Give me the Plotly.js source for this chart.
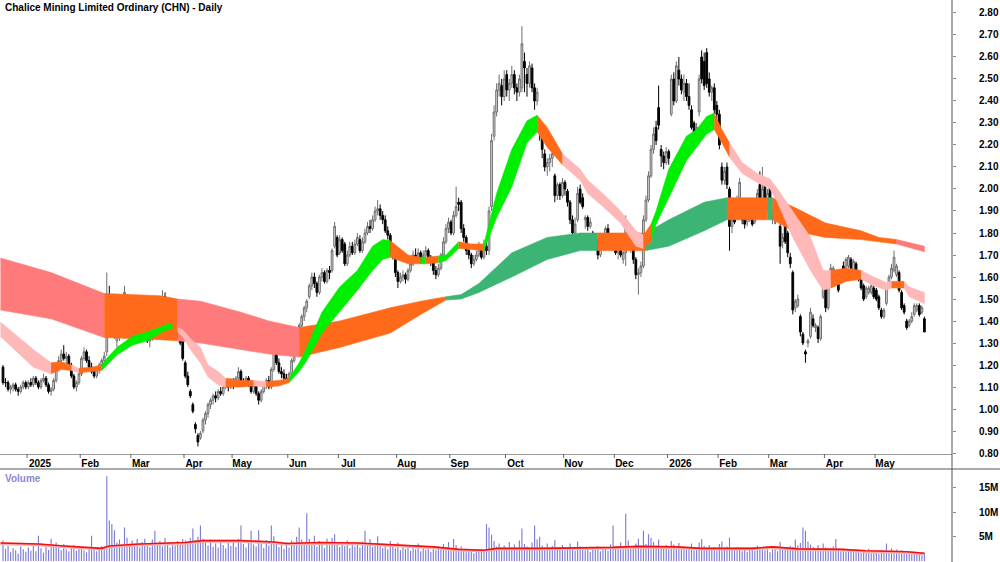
<!DOCTYPE html>
<html><head><meta charset="utf-8">
<script src="https://cdn.plot.ly/plotly-3.0.1.min.js"></script>
<style>html,body{margin:0;padding:0;background:#fff}#chart{width:1000px;height:562px}</style>
</head><body><div id="chart"></div>
<script>
// ---- Daily OHLC (trading-day index 0 = mid Dec 2024) ----
const openP = [
1.19,1.12,1.12,1.09,1.10,1.11,1.09,1.08,1.10,1.12,
1.10,1.12,1.11,1.14,1.12,1.10,1.13,1.14,1.11,1.08,
1.09,1.13,1.18,1.22,1.25,1.23,1.24,1.20,1.15,1.10,
1.12,1.16,1.23,1.26,1.22,1.19,1.17,1.15,1.18,1.20,
1.22,1.26,1.52,1.47,1.48,1.31,1.33,1.37,1.38,1.51,
1.45,1.38,1.40,1.46,1.41,1.43,1.38,1.36,1.31,1.32,
1.35,1.39,1.45,1.49,1.51,1.46,1.41,1.37,1.36,1.35,
1.34,1.33,1.21,1.15,1.08,1.02,0.93,0.88,0.87,0.90,
0.95,0.98,1.02,1.04,1.06,1.05,1.08,1.07,1.10,1.12,
1.10,1.12,1.11,1.14,1.17,1.12,1.11,1.14,1.12,1.08,
1.11,1.07,1.04,1.08,1.11,1.13,1.10,1.18,1.26,1.21,
1.17,1.16,1.14,1.13,1.16,1.22,1.28,1.34,1.38,1.42,
1.46,1.51,1.56,1.60,1.57,1.53,1.60,1.62,1.58,1.63,
1.63,1.74,1.78,1.71,1.77,1.75,1.66,1.70,1.74,1.71,
1.75,1.77,1.72,1.76,1.80,1.83,1.82,1.86,1.90,1.91,
1.88,1.86,1.81,1.79,1.72,1.68,1.62,1.58,1.60,1.61,
1.59,1.63,1.66,1.70,1.69,1.71,1.68,1.70,1.72,1.69,
1.67,1.63,1.61,1.64,1.70,1.76,1.82,1.85,1.80,1.88,
1.94,1.94,1.82,1.78,1.72,1.70,1.66,1.68,1.70,1.73,
1.69,1.74,1.72,1.92,2.24,2.35,2.45,2.47,2.42,2.52,
2.45,2.48,2.52,2.46,2.44,2.46,2.58,2.52,2.48,2.55,
2.46,2.40,2.30,2.28,2.16,2.10,2.12,2.14,2.06,1.97,
2.02,1.97,2.03,1.99,1.94,1.86,1.80,1.86,2.00,1.96,
1.86,1.87,1.83,1.80,1.74,1.76,1.70,1.73,1.76,1.82,
1.75,1.78,1.74,1.71,1.73,1.68,1.71,1.84,1.75,1.74,
1.68,1.61,1.62,1.65,1.86,1.95,2.06,2.18,2.28,2.37,
2.18,2.15,2.12,2.17,2.34,2.50,2.40,2.54,2.50,2.44,
2.48,2.42,2.36,2.30,2.22,2.35,2.60,2.58,2.62,2.50,
2.44,2.46,2.38,2.34,2.10,2.04,2.10,2.00,1.83,1.93,
1.88,1.95,1.93,1.89,1.85,1.86,1.88,1.85,1.90,2.02,
1.94,2.03,1.92,2.02,1.88,1.90,1.87,1.83,1.76,1.85,
1.80,1.69,1.62,1.46,1.47,1.42,1.34,1.26,1.30,1.33,
1.41,1.37,1.37,1.32,1.51,1.59,1.46,1.60,1.58,1.62,
1.62,1.58,1.65,1.64,1.65,1.68,1.63,1.66,1.62,1.59,
1.56,1.51,1.53,1.53,1.55,1.54,1.51,1.45,1.42,1.48,
1.56,1.60,1.63,1.61,1.62,1.53,1.47,1.40,1.38,1.40,
1.43,1.45,1.47,1.44,1.41];
const highP = [
1.20,1.14,1.13,1.11,1.12,1.12,1.10,1.11,1.13,1.13,
1.13,1.14,1.15,1.15,1.13,1.14,1.16,1.15,1.12,1.10,
1.14,1.20,1.24,1.27,1.29,1.26,1.25,1.21,1.16,1.13,
1.17,1.24,1.28,1.27,1.24,1.21,1.18,1.19,1.21,1.23,
1.26,1.62,1.56,1.50,1.49,1.35,1.38,1.42,1.56,1.52,
1.46,1.42,1.47,1.47,1.44,1.44,1.40,1.37,1.33,1.36,
1.40,1.46,1.50,1.54,1.53,1.47,1.43,1.39,1.37,1.36,
1.35,1.35,1.22,1.17,1.09,1.03,0.94,0.89,0.90,0.96,
0.99,1.03,1.05,1.07,1.08,1.09,1.10,1.11,1.13,1.13,
1.14,1.14,1.15,1.19,1.18,1.14,1.15,1.15,1.13,1.12,
1.12,1.08,1.09,1.12,1.14,1.15,1.19,1.28,1.27,1.23,
1.19,1.18,1.16,1.17,1.23,1.29,1.35,1.39,1.43,1.47,
1.50,1.57,1.62,1.62,1.58,1.61,1.64,1.63,1.64,1.65,
1.73,1.85,1.79,1.79,1.78,1.76,1.72,1.76,1.76,1.77,
1.80,1.79,1.78,1.82,1.85,1.86,1.88,1.92,1.95,1.93,
1.90,1.88,1.83,1.80,1.74,1.69,1.63,1.62,1.63,1.62,
1.64,1.68,1.72,1.73,1.73,1.72,1.72,1.74,1.73,1.70,
1.68,1.65,1.66,1.71,1.78,1.84,1.87,1.86,1.90,2.01,
1.96,1.95,1.84,1.79,1.74,1.71,1.70,1.72,1.76,1.74,
1.77,1.76,1.92,2.25,2.38,2.48,2.52,2.50,2.54,2.54,
2.50,2.56,2.54,2.48,2.52,2.74,2.62,2.55,2.58,2.57,
2.48,2.46,2.32,2.29,2.18,2.14,2.16,2.18,2.07,2.03,
2.03,2.05,2.04,2.00,1.95,1.88,1.87,2.01,2.02,1.98,
1.88,1.88,1.87,1.81,1.77,1.77,1.74,1.77,1.83,1.84,
1.79,1.80,1.75,1.75,1.76,1.72,1.88,1.85,1.78,1.75,
1.69,1.64,1.67,1.88,1.97,2.08,2.20,2.28,2.31,2.47,
2.20,2.17,2.19,2.18,2.52,2.53,2.58,2.60,2.52,2.52,
2.50,2.48,2.38,2.31,2.30,2.52,2.63,2.62,2.64,2.53,
2.47,2.48,2.40,2.36,2.12,2.10,2.12,2.01,1.88,1.95,
1.97,2.05,1.95,1.91,1.89,1.89,1.90,1.92,2.00,2.08,
2.10,2.05,2.00,2.04,1.92,1.91,1.91,1.84,1.80,1.87,
1.81,1.71,1.63,1.50,1.52,1.43,1.35,1.27,1.32,1.46,
1.43,1.39,1.38,1.43,1.58,1.60,1.59,1.66,1.65,1.63,
1.63,1.63,1.67,1.69,1.70,1.69,1.68,1.67,1.63,1.60,
1.57,1.56,1.56,1.57,1.56,1.55,1.52,1.46,1.46,1.56,
1.61,1.66,1.72,1.66,1.63,1.54,1.48,1.41,1.41,1.44,
1.48,1.48,1.48,1.47,1.42];
const lowP = [
1.11,1.10,1.08,1.07,1.08,1.08,1.06,1.07,1.09,1.09,
1.09,1.10,1.10,1.11,1.09,1.09,1.12,1.10,1.07,1.06,
1.08,1.12,1.17,1.20,1.22,1.20,1.19,1.14,1.09,1.08,
1.11,1.15,1.22,1.21,1.18,1.16,1.14,1.14,1.16,1.18,
1.20,1.24,1.45,1.44,1.32,1.28,1.31,1.35,1.36,1.43,
1.36,1.35,1.39,1.40,1.38,1.37,1.34,1.30,1.28,1.31,
1.34,1.38,1.43,1.46,1.45,1.40,1.36,1.34,1.33,1.32,
1.29,1.22,1.14,1.10,1.05,0.98,0.89,0.83,0.86,0.89,
0.93,0.96,1.00,1.02,1.03,1.04,1.06,1.06,1.09,1.08,
1.09,1.09,1.10,1.12,1.11,1.10,1.10,1.10,1.07,1.07,
1.06,1.02,1.03,1.07,1.09,1.09,1.09,1.17,1.20,1.16,
1.14,1.12,1.12,1.12,1.15,1.21,1.27,1.32,1.36,1.40,
1.44,1.50,1.54,1.55,1.51,1.52,1.58,1.57,1.57,1.59,
1.62,1.73,1.69,1.70,1.71,1.65,1.65,1.69,1.70,1.70,
1.74,1.71,1.71,1.75,1.79,1.80,1.81,1.85,1.88,1.86,
1.84,1.80,1.77,1.70,1.68,1.60,1.55,1.57,1.58,1.57,
1.58,1.62,1.65,1.67,1.68,1.66,1.67,1.69,1.68,1.65,
1.61,1.59,1.60,1.63,1.69,1.75,1.80,1.79,1.79,1.87,
1.90,1.80,1.76,1.70,1.68,1.64,1.65,1.67,1.69,1.68,
1.68,1.70,1.70,1.90,2.22,2.33,2.42,2.38,2.40,2.42,
2.40,2.46,2.43,2.40,2.42,2.44,2.44,2.42,2.46,2.44,
2.36,2.38,2.22,2.14,2.08,2.06,2.08,2.10,1.94,1.95,
1.95,1.96,1.97,1.92,1.84,1.77,1.78,1.85,1.93,1.91,
1.82,1.81,1.82,1.73,1.72,1.68,1.69,1.72,1.75,1.74,
1.74,1.73,1.70,1.68,1.69,1.66,1.65,1.76,1.71,1.66,
1.59,1.52,1.60,1.64,1.85,1.94,2.05,2.16,2.20,2.27,
2.10,2.09,2.11,2.11,2.33,2.38,2.39,2.47,2.43,2.40,
2.40,2.36,2.27,2.21,2.20,2.33,2.48,2.45,2.46,2.42,
2.40,2.34,2.30,2.18,2.02,2.02,2.00,1.72,1.80,1.84,
1.86,1.94,1.84,1.82,1.83,1.85,1.83,1.84,1.89,1.93,
1.93,1.94,1.90,1.93,1.84,1.84,1.85,1.66,1.73,1.75,
1.69,1.64,1.43,1.44,1.46,1.33,1.29,1.21,1.28,1.32,
1.37,1.35,1.30,1.31,1.50,1.44,1.45,1.59,1.57,1.56,
1.53,1.57,1.61,1.63,1.64,1.63,1.62,1.60,1.58,1.54,
1.49,1.50,1.52,1.52,1.50,1.49,1.45,1.41,1.41,1.47,
1.55,1.59,1.62,1.60,1.53,1.45,1.43,1.36,1.37,1.39,
1.42,1.44,1.42,1.43,1.35];
const closeP = [
1.12,1.12,1.09,1.10,1.11,1.09,1.08,1.10,1.12,1.10,
1.12,1.11,1.14,1.12,1.10,1.13,1.14,1.11,1.08,1.09,
1.13,1.18,1.22,1.25,1.23,1.24,1.20,1.15,1.10,1.12,
1.16,1.23,1.26,1.22,1.19,1.17,1.15,1.18,1.20,1.22,
1.24,1.50,1.47,1.46,1.34,1.33,1.37,1.40,1.53,1.45,
1.38,1.40,1.46,1.41,1.43,1.38,1.36,1.31,1.32,1.35,
1.39,1.45,1.49,1.51,1.46,1.41,1.37,1.36,1.35,1.34,
1.30,1.23,1.15,1.11,1.06,0.99,0.91,0.85,0.89,0.95,
0.98,1.02,1.04,1.06,1.05,1.08,1.07,1.10,1.12,1.10,
1.12,1.11,1.14,1.17,1.12,1.11,1.14,1.12,1.08,1.11,
1.07,1.04,1.08,1.11,1.13,1.10,1.18,1.26,1.21,1.17,
1.16,1.14,1.13,1.16,1.22,1.28,1.34,1.38,1.42,1.46,
1.49,1.56,1.60,1.57,1.53,1.60,1.62,1.58,1.63,1.62,
1.72,1.83,1.70,1.77,1.72,1.66,1.70,1.74,1.71,1.75,
1.78,1.72,1.76,1.80,1.83,1.82,1.86,1.90,1.91,1.88,
1.86,1.81,1.79,1.72,1.70,1.62,1.58,1.60,1.61,1.59,
1.63,1.66,1.70,1.69,1.71,1.68,1.70,1.72,1.69,1.67,
1.63,1.61,1.64,1.70,1.76,1.82,1.85,1.80,1.88,1.92,
1.93,1.82,1.78,1.72,1.70,1.66,1.68,1.70,1.73,1.69,
1.74,1.72,1.90,2.22,2.35,2.45,2.48,2.42,2.50,2.45,
2.48,2.52,2.46,2.44,2.50,2.66,2.55,2.48,2.56,2.46,
2.40,2.44,2.28,2.18,2.10,2.12,2.14,2.16,1.97,2.02,
1.97,2.03,2.00,1.94,1.86,1.80,1.84,1.98,1.94,1.92,
1.87,1.83,1.85,1.74,1.76,1.70,1.73,1.76,1.82,1.75,
1.78,1.74,1.71,1.73,1.70,1.71,1.86,1.77,1.76,1.68,
1.61,1.62,1.65,1.86,1.95,2.06,2.18,2.25,2.22,2.29,
2.15,2.12,2.17,2.14,2.50,2.40,2.56,2.50,2.45,2.48,
2.42,2.38,2.28,2.22,2.28,2.50,2.50,2.47,2.48,2.44,
2.46,2.36,2.34,2.20,2.04,2.08,2.02,1.83,1.86,1.85,
1.95,2.03,1.86,1.84,1.87,1.88,1.84,1.90,1.98,1.94,
2.00,1.96,1.98,1.94,1.90,1.86,1.90,1.74,1.78,1.76,
1.71,1.66,1.45,1.49,1.50,1.35,1.30,1.25,1.31,1.44,
1.38,1.38,1.32,1.42,1.56,1.46,1.58,1.64,1.64,1.57,
1.54,1.62,1.62,1.68,1.69,1.64,1.67,1.61,1.59,1.55,
1.50,1.55,1.55,1.56,1.51,1.50,1.46,1.42,1.45,1.55,
1.60,1.64,1.69,1.65,1.54,1.46,1.44,1.37,1.40,1.42,
1.47,1.47,1.43,1.46,1.35];
// ---- Daily volume (millions of shares) ----
const volumeM = [
4.2,2.5,3.1,1.8,2.6,2.2,1.5,3.0,2.4,1.9,
2.8,2.1,3.4,2.0,5.2,2.6,1.7,2.9,2.3,4.6,
3.1,3.8,2.7,2.2,3.5,2.4,2.0,2.9,3.3,2.1,
2.5,3.0,2.2,1.8,2.7,5.2,2.4,2.0,2.6,3.1,
2.9,17.4,8.3,7.6,6.3,3.8,4.4,3.2,6.9,4.8,
3.6,4.2,3.1,4.5,2.8,3.9,4.6,3.3,2.9,4.4,
6.2,3.7,4.1,3.0,4.8,3.4,2.8,3.9,3.2,4.1,
3.5,4.5,4.2,3.8,4.7,6.7,4.3,5.0,7.3,4.6,
3.9,3.2,4.4,3.0,3.6,2.8,4.1,3.3,2.6,3.8,
3.1,4.0,2.9,4.6,7.3,3.5,2.8,4.2,6.2,3.4,
3.0,6.3,3.7,2.7,4.3,3.2,7.3,5.1,3.6,2.9,
3.4,2.5,3.9,2.8,4.2,3.6,5.0,6.9,4.4,3.8,
9.8,4.5,3.3,5.2,3.0,4.1,3.5,2.7,4.6,3.2,
4.8,5.5,3.6,2.9,3.8,3.1,4.2,2.6,3.4,3.0,
3.7,2.8,4.0,6.2,3.3,4.5,2.9,3.6,5.1,3.2,
2.7,3.5,2.4,4.1,3.0,2.6,3.8,2.2,2.9,2.5,
3.3,2.1,2.8,2.4,3.6,2.0,2.7,2.3,3.1,1.9,
2.6,2.2,3.0,2.8,3.5,2.4,3.9,2.1,4.5,3.3,
2.5,3.0,2.1,1.8,2.4,2.0,1.6,2.2,1.9,2.5,
2.3,7.6,6.9,5.4,4.1,3.0,3.6,2.5,3.2,2.7,
3.9,2.8,3.4,2.3,4.2,6.7,3.5,3.0,2.6,3.8,
7.3,4.4,5.0,3.2,2.8,3.6,2.4,3.1,4.3,2.9,
2.5,3.3,2.2,2.8,3.6,2.7,2.1,4.0,3.0,2.4,
2.2,2.9,1.9,2.6,2.3,3.1,2.0,2.5,2.8,2.1,
3.4,7.3,3.0,2.6,3.8,2.4,9.7,4.2,3.1,2.7,
3.6,4.6,2.9,6.2,3.5,5.5,4.8,3.9,3.2,4.4,
3.0,2.6,3.3,2.4,4.1,3.4,2.8,3.7,2.5,3.0,
2.3,2.9,3.6,2.2,2.7,3.8,4.5,3.1,2.6,3.3,
2.4,2.9,2.1,3.5,4.0,2.6,3.0,4.8,2.7,2.2,
2.9,2.4,2.0,2.6,1.9,2.3,2.8,2.1,3.2,2.5,
2.7,2.2,3.0,1.8,2.4,2.6,2.0,3.9,2.8,2.3,
2.6,3.1,2.9,4.4,3.2,3.7,6.9,6.2,4.0,3.4,
2.9,2.5,3.3,2.4,3.6,2.8,2.2,2.7,3.0,4.5,
2.3,2.0,2.6,1.9,2.4,2.1,1.8,2.3,2.0,1.7,
2.2,1.8,2.5,1.6,2.0,1.9,1.5,2.3,1.8,3.6,
2.1,2.6,1.9,2.4,1.7,2.2,1.6,2.0,1.8,1.5,
1.9,1.6,1.4,1.2,1.7];
// ---- Volume moving average, read at sample days ----
const volMaDay = [-1,14,24,34,39,42,54,72,79,94,107,112,125,140,155,170,180,190,195,213,241,251,266,276,296,304,314,331,341,357,364];
const volMaM   = [3.7,3.5,3.1,2.8,2.6,3.1,3.5,3.8,4.2,4.2,3.9,3.6,3.8,3.7,3.3,2.9,2.4,2.2,2.6,2.6,2.8,3.0,2.9,2.6,2.6,2.9,2.5,2.4,2.1,1.9,1.6];
// ---- Fast MMA ribbon (edges read at sample days; colour code of the stretch starting there) ----
const fastDay = [-1,12,19,23,27,30,35,39,41,45,51,57,62,65,67,69,71,74,78,81,85,88,94,99,104,109,113,117,120,126,133,140,146,150,153,160,165,167,172,175,180,185,190,195,201,207,211,215,221,228,231,237,244,250,253,256,258,263,270,274,278,281,284,287,292,298,303,306,312,319,324,327,333,339,344,349,351,356,358,364];
const fastHi  = [1.395,1.27,1.21,1.215,1.20,1.185,1.19,1.20,1.23,1.28,1.33,1.35,1.37,1.385,1.385,1.37,1.36,1.32,1.28,1.20,1.17,1.14,1.13,1.13,1.125,1.13,1.14,1.21,1.28,1.44,1.555,1.63,1.74,1.77,1.765,1.70,1.69,1.69,1.695,1.70,1.76,1.75,1.75,1.98,2.18,2.31,2.335,2.28,2.16,2.09,2.04,1.98,1.90,1.81,1.79,1.84,1.90,2.09,2.24,2.27,2.33,2.345,2.27,2.21,2.12,2.07,2.045,2.00,1.90,1.78,1.63,1.63,1.64,1.63,1.60,1.575,1.58,1.58,1.555,1.53];
const fastLo  = [1.33,1.19,1.16,1.18,1.175,1.165,1.17,1.175,1.20,1.245,1.29,1.31,1.345,1.36,1.365,1.35,1.33,1.27,1.21,1.145,1.11,1.10,1.10,1.105,1.10,1.105,1.12,1.17,1.22,1.345,1.44,1.54,1.63,1.68,1.69,1.66,1.66,1.66,1.665,1.675,1.73,1.725,1.72,1.87,2.01,2.21,2.26,2.19,2.11,2.04,1.98,1.92,1.845,1.74,1.73,1.76,1.84,1.96,2.13,2.19,2.25,2.27,2.21,2.145,2.07,2.03,2.00,1.94,1.78,1.63,1.54,1.55,1.58,1.59,1.56,1.54,1.55,1.55,1.51,1.48];
const fastCol = ['P','P','O','O','P','O','O','G','G','G','G','G','G','G','O','P','P','P','P','P','P','O','O','P','O','O','G','G','G','G','G','G','G','G','O','O','G','O','G','G','O','O','G','G','G','G','O','O','P','P','P','P','P','P','O','G','G','G','G','G','G','O','O','P','P','P','P','P','P','P','P','O','O','P','P','P','O','P','P','P'];
// ---- Slow MMA ribbon ----
const slowDay = [-1,19,40,50,62,69,78,94,105,117,133,153,165,175,181,188,201,215,228,235,244,254,263,277,286,295,302,304,312,325,339,346,353,364];
const slowHi  = [1.686,1.62,1.525,1.52,1.515,1.50,1.49,1.44,1.40,1.37,1.40,1.46,1.49,1.51,1.52,1.57,1.71,1.78,1.80,1.80,1.80,1.80,1.86,1.94,1.96,1.96,1.96,1.96,1.92,1.845,1.81,1.78,1.77,1.74];
const slowLo  = [1.45,1.41,1.325,1.32,1.315,1.31,1.30,1.27,1.25,1.236,1.28,1.345,1.43,1.495,1.50,1.53,1.60,1.68,1.72,1.72,1.72,1.72,1.74,1.81,1.86,1.86,1.86,1.86,1.81,1.78,1.77,1.76,1.75,1.715];
const slowCol = ['R','R','O','O','O','R','R','R','R','O','O','O','O','D','D','D','D','D','D','O','O','D','D','D','O','O','D','O','O','O','O','O','R','R'];
// ---- Month axis ----
const monthLabels = ['2025','Feb','Mar','Apr','May','Jun','Jul','Aug','Sep','Oct','Nov','Dec','2026','Feb','Mar','Apr','May'];
const monthStartDay = [10,31,51,72,91,113,133,156,177,199,222,242,263,283,303,325,345];

const COLORS = {R:'#ff7b7b', O:'#ff6a1a', P:'#ffb8b8', G:'#00ee00', D:'#3cb474'};
const PX_PER_DAY = 2.531;
const day = closeP.map((_, i) => i);
const xRange = [-1.185, 374.9];

function ribbon(dayArr, hi, lo, col) {
  const out = [];
  let s = 0;
  for (let k = 1; k < dayArr.length; k++) {
    if (col[k] !== col[s] || k === dayArr.length - 1) {
      const xs = dayArr.slice(s, k + 1), h = hi.slice(s, k + 1), l = lo.slice(s, k + 1);
      out.push({
        type: 'scatter', mode: 'lines', x: xs.concat(xs.slice().reverse()),
        y: h.concat(l.slice().reverse()), fill: 'toself', fillcolor: COLORS[col[s]],
        line: {color: COLORS[col[s]], width: 0.6}, hoverinfo: 'skip', xaxis: 'x', yaxis: 'y'
      });
      s = k;
    }
  }
  return out;
}

const traces = [].concat(
  ribbon(slowDay, slowHi, slowLo, slowCol),
  ribbon(fastDay, fastHi, fastLo, fastCol),
  [{
    type: 'candlestick', x: day, open: openP, high: highP, low: lowP, close: closeP,
    increasing: {line: {color: '#6e6e6e', width: 1}, fillcolor: '#dcdcdc'},
    decreasing: {line: {color: '#000000', width: 1}, fillcolor: '#000000'},
    whiskerwidth: 0, hoverinfo: 'skip', xaxis: 'x', yaxis: 'y'
  },
  {
    type: 'bar', x: day, y: volumeM.map(v => v * 1e6), width: 0.45,
    marker: {color: '#7c7cd2', line: {width: 0}}, hoverinfo: 'skip', xaxis: 'x2', yaxis: 'y2'
  },
  {
    type: 'scatter', mode: 'lines', x: volMaDay, y: volMaM.map(v => v * 1e6 - 0.15e6),
    line: {color: '#ffb0b0', width: 3}, hoverinfo: 'skip', xaxis: 'x2', yaxis: 'y2'
  },
  {
    type: 'scatter', mode: 'lines', x: volMaDay, y: volMaM.map(v => v * 1e6),
    line: {color: '#ee1111', width: 1.6}, hoverinfo: 'skip', xaxis: 'x2', yaxis: 'y2'
  }]
);

const H = 562, PLOT_R = 952;
const priceBottom = 1 - 454 / H, volTop = (H - 469) / H;
const labelPos = monthStartDay.map((m, k) => m - 0.5 + (1 + monthLabels[k].length * 3) / PX_PER_DAY);
const tickFont = {family: 'Liberation Sans, Arial, sans-serif', size: 10, color: '#000', weight: 'bold'};

const shapes = [
  {type: 'line', xref: 'paper', yref: 'paper', x0: 1, x1: 1, y0: 0, y1: 1, line: {color: '#555', width: 1}},
  {type: 'line', xref: 'paper', yref: 'paper', x0: 0, x1: 1000 / PLOT_R, y0: volTop, y1: volTop, line: {color: '#555', width: 1}}
].concat(monthStartDay.map(m => ({
  type: 'line', xref: 'x', yref: 'paper', x0: m - 0.5, x1: m - 0.5,
  y0: priceBottom, y1: priceBottom - 4 / H, line: {color: '#666', width: 1}
})));

const layout = {
  width: 1000, height: 562, margin: {l: 0, r: 48, t: 0, b: 0},
  paper_bgcolor: '#fff', plot_bgcolor: '#fff', showlegend: false, boxgap: 0.02,
  font: {family: 'Liberation Sans, Arial, sans-serif', size: 10, color: '#000'},
  xaxis: {domain: [0, 1], range: xRange, anchor: 'y', showgrid: false, zeroline: false,
    rangeslider: {visible: false}, tickmode: 'array', tickvals: labelPos, ticktext: monthLabels,
    ticks: '', showline: true, linecolor: '#999', linewidth: 1, tickfont: tickFont, fixedrange: true},
  yaxis: {domain: [priceBottom, 1], range: [0.7955, 2.859], side: 'right', anchor: 'x',
    tick0: 0.8, dtick: 0.1, tickformat: '.2f', ticks: 'outside', ticklen: 3, tickcolor: '#888',
    showgrid: false, zeroline: false, showline: false, tickfont: tickFont, ticklabelstandoff: 21},
  xaxis2: {domain: [0, 1], range: xRange, anchor: 'y2', showticklabels: false, showgrid: false,
    zeroline: false, ticks: '', showline: false},
  yaxis2: {domain: [0, volTop], range: [-0.2e6, 18.9e6], side: 'right', anchor: 'x2',
    tickmode: 'array', tickvals: [5e6, 1e7, 1.5e7], ticktext: ['5M', '10M', '15M'],
    ticks: 'outside', ticklen: 3, tickcolor: '#888', showgrid: false, zeroline: false,
    showline: false, tickfont: tickFont, ticklabelstandoff: 21},
  shapes: shapes,
  annotations: [
    {xref: 'paper', yref: 'paper', x: 3 / PLOT_R, y: 1 - 8 / H, xanchor: 'left', yanchor: 'middle',
     text: 'Chalice Mining Limited Ordinary (CHN) - Daily', showarrow: false,
     font: {family: 'Liberation Sans, Arial, sans-serif', size: 10, color: '#000', weight: 'bold'}},
    {xref: 'paper', yref: 'paper', x: 3 / PLOT_R, y: 1 - 478 / H, xanchor: 'left', yanchor: 'middle',
     text: 'Volume', showarrow: false,
     font: {family: 'Liberation Sans, Arial, sans-serif', size: 10, color: '#8a8ad0', weight: 'bold'}}
  ]
};

Plotly.newPlot('chart', traces, layout, {staticPlot: true, displayModeBar: false});
</script>
</body></html>
